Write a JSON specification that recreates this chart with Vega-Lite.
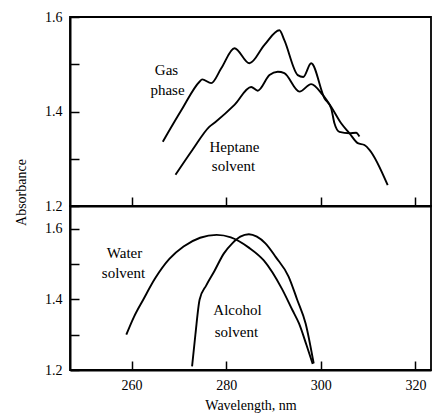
{
  "$schema": "https://vega.github.io/schema/vega-lite/v6.json",
  "autosize": {"type": "pad"},
  "padding": {"left": 13, "top": 9, "right": 0, "bottom": 0},
  "background": "white",
  "spacing": 0,
  "bounds": "flush",
  "config": {
    "view": {"stroke": "black", "strokeWidth": 1.8},
    "axis": {
      "labelFont": "Liberation Serif", "titleFont": "Liberation Serif",
      "labelFontSize": 14, "titleFontSize": 14, "labelColor": "black", "titleColor": "black",
      "domainColor": "black", "tickColor": "black", "grid": false, "domainWidth": 2,
      "tickWidth": 1.5, "titleFontWeight": "normal", "labelFlush": false
    },
    "text": {"font": "Liberation Serif", "fontSize": 15, "color": "black"}
  },
  "datasets": {
    "top": [
      {"series": "Gas", "wl": 266.61, "abs": 1.336},
      {"series": "Gas", "wl": 270.56, "abs": 1.403},
      {"series": "Gas", "wl": 274.37, "abs": 1.463},
      {"series": "Gas", "wl": 274.94, "abs": 1.468},
      {"series": "Gas", "wl": 276.84, "abs": 1.460},
      {"series": "Gas", "wl": 279.0, "abs": 1.492},
      {"series": "Gas", "wl": 281.76, "abs": 1.534},
      {"series": "Gas", "wl": 284.93, "abs": 1.502},
      {"series": "Gas", "wl": 288.1, "abs": 1.541},
      {"series": "Gas", "wl": 291.27, "abs": 1.572},
      {"series": "Gas", "wl": 292.3, "abs": 1.551},
      {"series": "Gas", "wl": 295.14, "abs": 1.477},
      {"series": "Gas", "wl": 296.3, "abs": 1.473},
      {"series": "Gas", "wl": 297.97, "abs": 1.502},
      {"series": "Gas", "wl": 300.78, "abs": 1.428},
      {"series": "Gas", "wl": 302.19, "abs": 1.407},
      {"series": "Gas", "wl": 302.89, "abs": 1.375},
      {"series": "Gas", "wl": 303.94, "abs": 1.357},
      {"series": "Gas", "wl": 306.06, "abs": 1.354},
      {"series": "Gas", "wl": 307.47, "abs": 1.355},
      {"series": "Gas", "wl": 308.17, "abs": 1.347},
      {"series": "Heptane", "wl": 269.3, "abs": 1.266},
      {"series": "Heptane", "wl": 272.9, "abs": 1.319},
      {"series": "Heptane", "wl": 276.48, "abs": 1.368},
      {"series": "Heptane", "wl": 277.75, "abs": 1.378},
      {"series": "Heptane", "wl": 281.76, "abs": 1.414},
      {"series": "Heptane", "wl": 285.29, "abs": 1.452},
      {"series": "Heptane", "wl": 286.68, "abs": 1.444},
      {"series": "Heptane", "wl": 289.16, "abs": 1.477},
      {"series": "Heptane", "wl": 290.91, "abs": 1.484},
      {"series": "Heptane", "wl": 292.3, "abs": 1.481},
      {"series": "Heptane", "wl": 295.5, "abs": 1.442},
      {"series": "Heptane", "wl": 297.97, "abs": 1.458},
      {"series": "Heptane", "wl": 300.42, "abs": 1.435},
      {"series": "Heptane", "wl": 302.19, "abs": 1.410},
      {"series": "Heptane", "wl": 304.31, "abs": 1.375},
      {"series": "Heptane", "wl": 306.06, "abs": 1.354},
      {"series": "Heptane", "wl": 307.82, "abs": 1.333},
      {"series": "Heptane", "wl": 309.23, "abs": 1.329},
      {"series": "Heptane", "wl": 310.29, "abs": 1.319},
      {"series": "Heptane", "wl": 314.15, "abs": 1.244}
    ],
    "bottom": [
      {"series": "Water", "wl": 258.9, "abs": 1.30},
      {"series": "Water", "wl": 260.5, "abs": 1.35},
      {"series": "Water", "wl": 262.5, "abs": 1.40},
      {"series": "Water", "wl": 265.0, "abs": 1.46},
      {"series": "Water", "wl": 268.0, "abs": 1.515},
      {"series": "Water", "wl": 271.0, "abs": 1.55},
      {"series": "Water", "wl": 274.5, "abs": 1.575},
      {"series": "Water", "wl": 278.0, "abs": 1.583},
      {"series": "Water", "wl": 281.0, "abs": 1.576},
      {"series": "Water", "wl": 284.8, "abs": 1.547},
      {"series": "Water", "wl": 288.0, "abs": 1.51},
      {"series": "Water", "wl": 291.8, "abs": 1.43},
      {"series": "Water", "wl": 294.0, "abs": 1.37},
      {"series": "Water", "wl": 295.4, "abs": 1.332},
      {"series": "Water", "wl": 297.0, "abs": 1.27},
      {"series": "Water", "wl": 298.3, "abs": 1.217},
      {"series": "Alcohol", "wl": 272.8, "abs": 1.21},
      {"series": "Alcohol", "wl": 273.5, "abs": 1.30},
      {"series": "Alcohol", "wl": 274.4, "abs": 1.40},
      {"series": "Alcohol", "wl": 275.8, "abs": 1.44},
      {"series": "Alcohol", "wl": 277.5, "abs": 1.48},
      {"series": "Alcohol", "wl": 279.5, "abs": 1.53},
      {"series": "Alcohol", "wl": 281.3, "abs": 1.559},
      {"series": "Alcohol", "wl": 283.0, "abs": 1.578},
      {"series": "Alcohol", "wl": 284.8, "abs": 1.585},
      {"series": "Alcohol", "wl": 286.5, "abs": 1.578},
      {"series": "Alcohol", "wl": 288.3, "abs": 1.559},
      {"series": "Alcohol", "wl": 290.5, "abs": 1.52},
      {"series": "Alcohol", "wl": 293.2, "abs": 1.465},
      {"series": "Alcohol", "wl": 295.0, "abs": 1.40},
      {"series": "Alcohol", "wl": 296.8, "abs": 1.332},
      {"series": "Alcohol", "wl": 298.5, "abs": 1.219}
    ],
    "topLabels": [
      {"label": "Gas", "wl": 267.39, "abs": 1.488},
      {"label": "phase", "wl": 267.6, "abs": 1.446},
      {"label": "Heptane", "wl": 281.76, "abs": 1.325},
      {"label": "solvent", "wl": 281.55, "abs": 1.285}
    ],
    "bottomLabels": [
      {"label": "Water", "wl": 258.52, "abs": 1.532},
      {"label": "solvent", "wl": 258.31, "abs": 1.475},
      {"label": "Alcohol", "wl": 282.4, "abs": 1.370},
      {"label": "solvent", "wl": 282.18, "abs": 1.308}
    ]
  },
  "vconcat": [
    {
      "width": 361,
      "height": 189,
      "layer": [
        {
          "data": {"name": "top"},
          "mark": {"type": "line", "color": "black", "strokeWidth": 1.9, "interpolate": "monotone"},
          "encoding": {
            "x": {"field": "wl", "type": "quantitative",
              "scale": {"domain": [247, 323.3], "nice": false, "zero": false},
              "axis": {"values": [260, 280, 300, 320], "labels": false, "tickSize": -9, "title": null}},
            "y": {"field": "abs", "type": "quantitative",
              "scale": {"domain": [1.2, 1.6], "nice": false, "zero": false},
              "axis": {"values": [1.2, 1.3, 1.4, 1.5, 1.6], "tickSize": -9, "labelPadding": 17,
                "labelExpr": "round(datum.value*10) % 2 == 0 ? format(datum.value, '.1f') : ''",
                "title": "Absorbance", "titleX": -49, "titleY": 175, "titleBaseline": "middle", "titleAngle": -90}},
            "detail": {"field": "series"}
          }
        },
        {
          "data": {"name": "topLabels"},
          "mark": {"type": "text", "align": "center", "baseline": "middle"},
          "encoding": {
            "x": {"field": "wl", "type": "quantitative"},
            "y": {"field": "abs", "type": "quantitative"},
            "text": {"field": "label"}
          }
        }
      ]
    },
    {
      "width": 361,
      "height": 164,
      "layer": [
        {
          "data": {"name": "bottom"},
          "mark": {"type": "line", "color": "black", "strokeWidth": 1.9, "interpolate": "monotone"},
          "encoding": {
            "x": {"field": "wl", "type": "quantitative",
              "scale": {"domain": [247, 323.3], "nice": false, "zero": false},
              "axis": {"values": [260, 280, 300, 320], "tickSize": -9, "labelPadding": 17,
                "title": "Wavelength, nm", "titleY": 35, "titleBaseline": "middle"}},
            "y": {"field": "abs", "type": "quantitative",
              "scale": {"domain": [1.2, 1.665], "nice": false, "zero": false},
              "axis": {"values": [1.2, 1.3, 1.4, 1.5, 1.6], "tickSize": -9, "labelPadding": 17,
                "labelExpr": "round(datum.value*10) % 2 == 0 ? format(datum.value, '.1f') : ''",
                "title": null}},
            "detail": {"field": "series"}
          }
        },
        {
          "data": {"name": "bottomLabels"},
          "mark": {"type": "text", "align": "center", "baseline": "middle"},
          "encoding": {
            "x": {"field": "wl", "type": "quantitative"},
            "y": {"field": "abs", "type": "quantitative"},
            "text": {"field": "label"}
          }
        }
      ]
    }
  ]
}
